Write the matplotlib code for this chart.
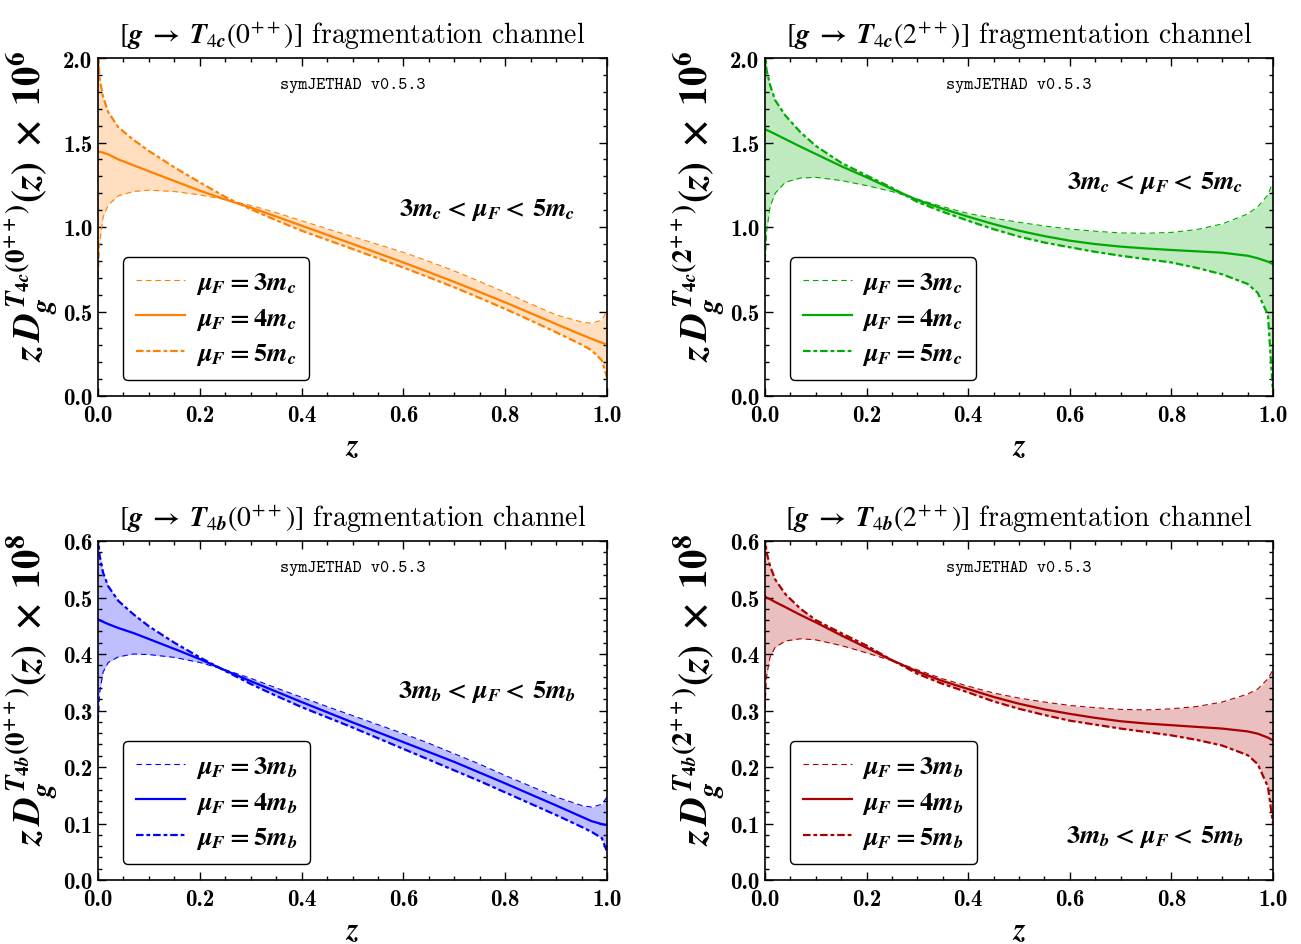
import matplotlib
matplotlib.use("Agg")
import matplotlib.pyplot as plt
from matplotlib.ticker import MultipleLocator, FormatStrFormatter

plt.rcParams.update({
    "mathtext.fontset": "custom",
    "mathtext.rm": "STIXGeneral:bold",
    "mathtext.it": "STIXGeneral:italic:bold",
    "mathtext.bf": "STIXGeneral:bold",
    "mathtext.sf": "STIXGeneral",
    "font.family": "cmb10",
})

# momentum fraction grid
z = [0.0, 0.003, 0.01, 0.02, 0.04, 0.07, 0.1, 0.15, 0.2, 0.25, 0.3, 0.35,
     0.4, 0.45, 0.5, 0.55, 0.6, 0.65, 0.7, 0.75, 0.8, 0.85, 0.9, 0.95, 0.97, 0.99, 1.0]

# g -> T4c(0++), z D(z) x 10^6
t4c0_mu3 = [0.65, 0.90, 1.06, 1.13, 1.185, 1.21, 1.218, 1.21, 1.19, 1.163, 1.128, 1.085,
            1.037, 0.99, 0.943, 0.897, 0.85, 0.797, 0.74, 0.678, 0.613, 0.545, 0.48,
            0.438, 0.43, 0.45, 0.505]
t4c0_mu4 = [1.448, 1.445, 1.44, 1.43, 1.40, 1.365, 1.33, 1.272, 1.215, 1.163, 1.115, 1.062,
            1.008, 0.954, 0.90, 0.845, 0.79, 0.733, 0.675, 0.615, 0.554, 0.49, 0.426,
            0.362, 0.338, 0.315, 0.304]
t4c0_mu5 = [2.05, 1.88, 1.77, 1.68, 1.59, 1.515, 1.45, 1.353, 1.264, 1.178, 1.105, 1.04,
            0.978, 0.924, 0.87, 0.815, 0.76, 0.702, 0.643, 0.58, 0.515, 0.447, 0.377,
            0.304, 0.27, 0.21, 0.11]

# g -> T4c(2++), z D(z) x 10^6
t4c2_mu3 = [0.75, 0.97, 1.12, 1.20, 1.265, 1.29, 1.294, 1.275, 1.245, 1.21, 1.165, 1.12,
            1.08, 1.052, 1.028, 1.006, 0.988, 0.975, 0.965, 0.963, 0.968, 0.985, 1.018,
            1.077, 1.12, 1.19, 1.27]
t4c2_mu4 = [1.578, 1.574, 1.565, 1.55, 1.52, 1.475, 1.432, 1.36, 1.294, 1.225, 1.16, 1.108,
            1.061, 1.017, 0.978, 0.946, 0.919, 0.899, 0.884, 0.873, 0.864, 0.856, 0.848,
            0.83, 0.815, 0.795, 0.78]
t4c2_mu5 = [2.05, 1.93, 1.84, 1.75, 1.66, 1.56, 1.48, 1.38, 1.305, 1.232, 1.148, 1.09,
            1.037, 0.987, 0.943, 0.908, 0.88, 0.853, 0.83, 0.81, 0.79, 0.758, 0.72,
            0.663, 0.61, 0.48, 0.02]

# g -> T4b(0++), z D(z) x 10^8
t4b0_mu3 = [0.265, 0.33, 0.368, 0.385, 0.395, 0.40, 0.399, 0.394, 0.385, 0.372, 0.357, 0.34,
            0.3235, 0.307, 0.291, 0.275, 0.259, 0.242, 0.2235, 0.205, 0.185, 0.166, 0.147,
            0.132, 0.129, 0.134, 0.147]
t4b0_mu4 = [0.461, 0.46, 0.457, 0.453, 0.446, 0.437, 0.4265, 0.409, 0.391, 0.371, 0.352, 0.3335,
            0.315, 0.297, 0.279, 0.2615, 0.244, 0.2265, 0.209, 0.19, 0.171, 0.1515, 0.132,
            0.112, 0.104, 0.099, 0.097]
t4b0_mu5 = [0.61, 0.575, 0.544, 0.52, 0.494, 0.47, 0.449, 0.42, 0.394, 0.37, 0.347, 0.326,
            0.306, 0.288, 0.27, 0.251, 0.232, 0.213, 0.194, 0.175, 0.155, 0.135, 0.115,
            0.094, 0.085, 0.074, 0.05]

# g -> T4b(2++), z D(z) x 10^8
t4b2_mu3 = [0.305, 0.36, 0.395, 0.412, 0.423, 0.427, 0.425, 0.415, 0.402, 0.388, 0.372, 0.356,
            0.343, 0.331, 0.322, 0.315, 0.309, 0.305, 0.302, 0.301, 0.303, 0.307, 0.315,
            0.329, 0.338, 0.356, 0.372]
t4b2_mu4 = [0.502, 0.50, 0.497, 0.492, 0.483, 0.469, 0.456, 0.433, 0.411, 0.389, 0.369, 0.352,
            0.338, 0.324, 0.312, 0.302, 0.294, 0.287, 0.281, 0.277, 0.274, 0.271, 0.268,
            0.263, 0.259, 0.252, 0.247]
t4b2_mu5 = [0.61, 0.58, 0.556, 0.532, 0.506, 0.48, 0.46, 0.437, 0.415, 0.389, 0.365, 0.347,
            0.332, 0.316, 0.303, 0.292, 0.282, 0.275, 0.268, 0.262, 0.256, 0.248, 0.238,
            0.221, 0.205, 0.165, 0.10]

panels = [
    dict(curves=(t4c0_mu3, t4c0_mu4, t4c0_mu5), color="#FF8000", quark="c", state="0",
         power="6", ymax=2.0, ymajor=0.5, yminor=0.1, band_xy=(0.764, 0.553),
         rect=[98, 59, 509, 338]),
    dict(curves=(t4c2_mu3, t4c2_mu4, t4c2_mu5), color="#00AA00", quark="c", state="2",
         power="6", ymax=2.0, ymajor=0.5, yminor=0.1, band_xy=(0.768, 0.633),
         rect=[765, 59, 508, 338]),
    dict(curves=(t4b0_mu3, t4b0_mu4, t4b0_mu5), color="#0000FF", quark="b", state="0",
         power="8", ymax=0.6, ymajor=0.1, yminor=0.02, band_xy=(0.764, 0.557),
         rect=[98, 542, 509, 339]),
    dict(curves=(t4b2_mu3, t4b2_mu4, t4b2_mu5), color="#AA0000", quark="b", state="2",
         power="8", ymax=0.6, ymajor=0.1, yminor=0.02, band_xy=(0.768, 0.13),
         rect=[765, 542, 508, 339]),
]

W, H = 1301, 945
fig = plt.figure(figsize=(W / 100, H / 100), dpi=100)

for p in panels:
    x0, y0, w, h = p["rect"]
    ax = fig.add_axes([x0 / W, 1 - (y0 + h) / H, w / W, h / H])
    q, s, col = p["quark"], p["state"], p["color"]
    mu3, mu4, mu5 = p["curves"]

    ax.fill_between(z, mu3, mu5, color=col, alpha=0.25, lw=0)
    ax.plot(z, mu3, color=col, lw=0.8, ls=(0, (5, 3.5)), label=rf"$\mu_F = 3m_{q}$")
    ax.plot(z, mu4, color=col, lw=1.6, label=rf"$\mu_F = 4m_{q}$")
    ax.plot(z, mu5, color=col, lw=1.6, ls=(0, (3.4, 1.3, 1.7, 1.3)),
            label=rf"$\mu_F = 5m_{q}$")

    ax.set_xlim(0, 1)
    ax.set_ylim(0, p["ymax"])
    ax.xaxis.set_major_locator(MultipleLocator(0.2))
    ax.xaxis.set_minor_locator(MultipleLocator(0.05))
    ax.yaxis.set_major_locator(MultipleLocator(p["ymajor"]))
    ax.yaxis.set_minor_locator(MultipleLocator(p["yminor"]))
    ax.xaxis.set_major_formatter(FormatStrFormatter("%.1f"))
    ax.yaxis.set_major_formatter(FormatStrFormatter("%.1f"))
    ax.tick_params(which="both", direction="in", top=True, right=True, width=1.0,
                   labelsize=16.5)
    ax.tick_params(which="major", length=5.5)
    ax.tick_params(which="minor", length=3)
    ax.tick_params(axis="x", pad=6)
    ax.tick_params(axis="y", pad=4)
    for sp in ax.spines.values():
        sp.set_linewidth(1.2)

    ax.set_title(rf"$\mathsf{{[}}g\;\rightarrow\;T_{{\mathsf{{4}}{q}}}\mathsf{{({s}^{{++}})]}}$ fragmentation channel",
                 fontfamily="cmr10", fontsize=20, pad=11)
    ax.set_xlabel(r"$z$", fontsize=22, labelpad=5)
    ax.set_ylabel(rf"$z\,D_{{g}}^{{T_{{4{q}}}({s}^{{++}})}}(z)\;\times\;10^{{{p['power']}}}$",
                  fontsize=28)
    ax.yaxis.set_label_coords(-0.074, 0.565)

    ax.text(0.5, 0.923, "symJETHAD v0.5.3", transform=ax.transAxes, ha="center",
            va="center", fontfamily="cmtt10", fontsize=12.5)
    bx, by = p["band_xy"]
    ax.text(bx, by, rf"$3m_{q} < \,\mu_F < \,5m_{q}$", transform=ax.transAxes,
            ha="center", va="center", fontsize=19)

    leg = ax.legend(loc="lower left", bbox_to_anchor=(0.049, 0.047), borderaxespad=0,
                    fontsize=19, frameon=True, fancybox=True, edgecolor="black",
                    framealpha=1, handlelength=1.85, handletextpad=0.4,
                    labelspacing=0.35, borderpad=0.5)
    leg.get_frame().set_linewidth(1.0)

fig.savefig("out.png", dpi=100)
